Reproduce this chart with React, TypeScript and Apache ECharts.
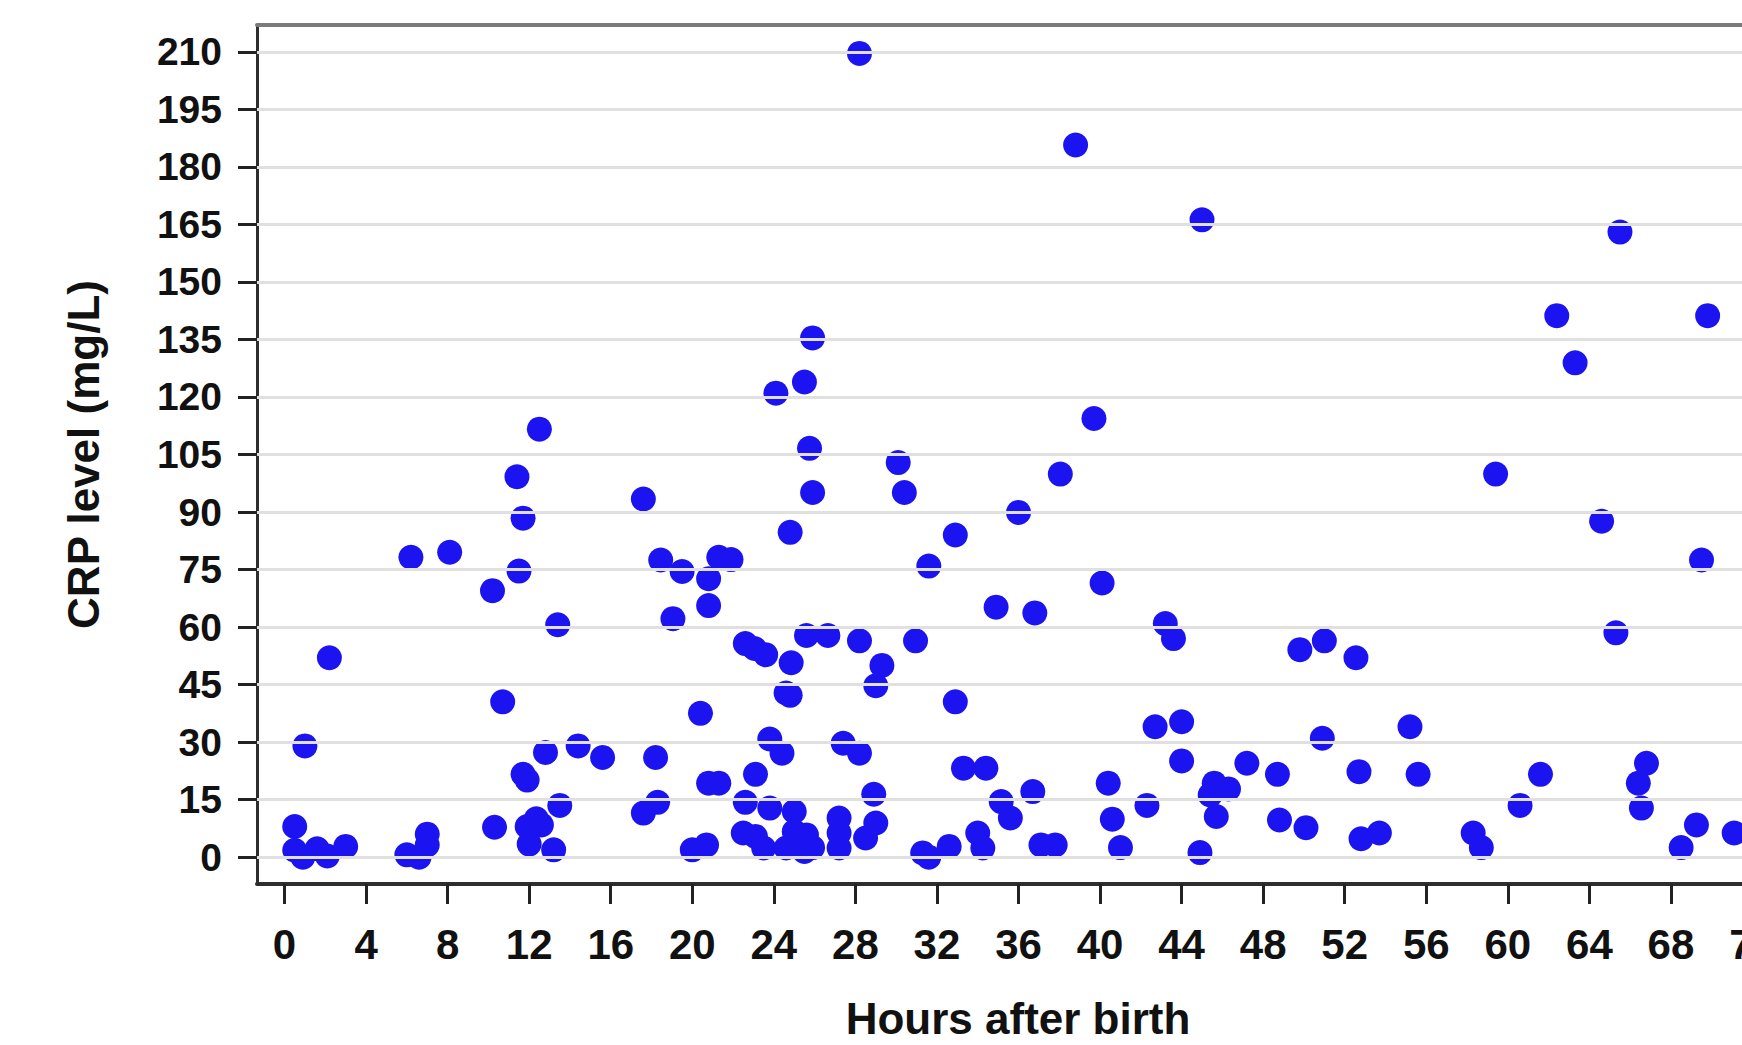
import React, { useEffect, useRef } from "react";
import * as echarts from "echarts";

// Hours after birth (x) and CRP level in mg/L (y)
const hoursAfterBirth = [
  0.5, 0.5, 0.9, 1.6, 2.1, 3.0, 1.0, 2.2, 6.0, 6.6,
  7.0, 7.0, 6.2, 8.1, 10.2, 10.3, 10.7, 11.4, 11.5, 11.7,
  11.7, 11.9, 11.9, 12.0, 12.35, 12.6, 12.5, 12.8, 13.2, 13.4,
  13.5, 14.4, 15.6, 17.6, 17.6, 18.2, 18.3, 18.45, 19.05, 19.5,
  20.0, 20.4, 20.7, 20.8, 20.8, 20.8, 21.3, 21.3, 21.9, 22.5,
  22.6, 22.6, 23.05, 23.1, 23.1, 23.5, 23.6, 23.8, 23.8, 24.1,
  24.4, 24.6, 24.8, 24.8, 24.6, 24.85, 25.0, 25.0, 25.2, 25.5,
  25.5, 25.6, 25.6, 25.75, 25.9, 25.9, 25.9, 26.65, 27.2, 27.2,
  27.2, 27.4, 28.2, 28.2, 28.2, 28.5, 28.9, 29.0, 29.0, 29.3,
  30.1, 30.4, 30.95, 31.3, 31.6, 31.6, 32.6, 32.9, 32.9, 33.3,
  34.0, 34.25, 34.4, 34.9, 35.15, 35.6, 36.0, 36.7, 36.8, 37.1,
  37.8, 38.05, 38.8, 39.7, 40.1, 40.4, 40.6, 41.0, 42.3, 42.7,
  43.2, 43.6, 44.0, 44.0, 44.9, 45.0, 45.4, 45.6, 45.7, 46.3,
  47.2, 48.7, 48.8, 49.8, 50.1, 50.9, 51.0, 52.55, 52.7, 52.8,
  53.7, 55.2, 55.6, 58.3, 58.7, 59.4, 60.6, 61.6, 62.4, 63.3,
  64.6, 65.3, 65.5, 66.4, 66.55, 66.8, 68.5, 69.25, 69.5, 69.8,
  71.1,
];

const crpLevel = [
  8.0, 1.8, 0, 2.2, 0.3, 2.8, 29, 52, 0.6, 0,
  6.0, 3.2, 78.2, 79.5, 69.5, 7.8, 40.5, 99.2, 74.6, 88.4,
  21.6, 20.1, 8.0, 3.4, 10.0, 8.4, 111.6, 27.3, 1.9, 60.6,
  13.5, 29.0, 26.0, 93.4, 11.5, 26.0, 14.3, 77.5, 62.2, 74.5,
  1.9, 37.5, 3.2, 72.6, 65.6, 19.3, 19.3, 78.2, 77.6, 6.3,
  55.7, 14.3, 54.4, 21.6, 5.4, 2.4, 52.8, 30.8, 12.8, 121.0,
  27.1, 2.4, 84.7, 42.2, 42.8, 50.7, 11.9, 6.7, 4.0, 123.9,
  1.5, 57.8, 5.8, 106.6, 135.4, 95.1, 2.5, 57.8, 10.2, 6.3,
  2.4, 29.7, 209.6, 56.4, 27.1, 5.0, 16.4, 44.7, 8.9, 50.0,
  102.9, 95.1, 56.4, 1.1, 75.9, 0, 2.8, 84.0, 40.5, 23.2,
  6.3, 2.4, 23.2, 65.2, 14.5, 10.2, 89.9, 17.1, 63.7, 3.2,
  3.2, 99.9, 185.7, 114.4, 71.5, 19.3, 9.9, 2.5, 13.5, 34.0,
  60.9, 57.0, 35.3, 25.1, 1.2, 166.2, 16.2, 19.3, 10.6, 17.8,
  24.5, 21.6, 9.7, 54.1, 7.7, 31.0, 56.4, 52.0, 22.3, 4.8,
  6.3, 34.0, 21.6, 6.3, 2.5, 99.9, 13.5, 21.6, 141.2, 128.9,
  87.6, 58.5, 163.0, 19.3, 12.8, 24.5, 2.5, 8.4, 77.5, 141.2,
  6.3,
];

const xTickValues = [0, 4, 8, 12, 16, 20, 24, 28, 32, 36, 40, 44, 48, 52, 56, 60, 64, 68, 72];
const yTickValues = [0, 15, 30, 45, 60, 75, 90, 105, 120, 135, 150, 165, 180, 195, 210];

const FONT = "'Liberation Sans', Arial, Helvetica, sans-serif";

export default function App() {
  const ref = useRef<HTMLDivElement>(null);

  useEffect(() => {
    if (!ref.current) return;
    const chart = echarts.init(ref.current, null, { renderer: "svg" });
    const points = hoursAfterBirth.map((h, i) => [h, crpLevel[i]]);

    chart.setOption({
      animation: false,
      backgroundColor: "#ffffff",
      grid: { left: 257, top: 25, width: 1522, height: 861, show: false },
      xAxis: [
        {
          type: "value",
          min: -1.35,
          max: 73.3,
          axisLine: { show: true, onZero: false, lineStyle: { color: "#2e2e2e", width: 4 } },
          axisTick: {
            show: true,
            customValues: xTickValues,
            length: 20,
            lineStyle: { color: "#222222", width: 3 },
          },
          axisLabel: {
            show: true,
            customValues: xTickValues,
            fontSize: 42,
            fontWeight: "bold",
            fontFamily: FONT,
            color: "#111111",
            margin: 39,
          },
          splitLine: { show: false },
          name: "Hours after birth",
          nameLocation: "middle",
          nameGap: 112,
          nameTextStyle: { fontSize: 44, fontWeight: "bold", fontFamily: FONT, color: "#111111" },
        },
        {
          type: "value",
          position: "top",
          min: -1.35,
          max: 73.3,
          axisLine: { show: true, onZero: false, lineStyle: { color: "#7a7a7a", width: 4 } },
          axisTick: { show: false },
          axisLabel: { show: false },
          splitLine: { show: false },
        },
      ],
      yAxis: {
        type: "value",
        min: -7,
        max: 217,
        axisLine: { show: true, onZero: false, lineStyle: { color: "#2e2e2e", width: 3 } },
        axisTick: {
          show: true,
          customValues: yTickValues,
          length: 19,
          lineStyle: { color: "#222222", width: 3 },
        },
        axisLabel: {
          show: true,
          customValues: yTickValues,
          fontSize: 39,
          fontWeight: "bold",
          fontFamily: FONT,
          color: "#111111",
          margin: 35,
        },
        splitLine: { show: false },
        name: "CRP level (mg/L)",
        nameLocation: "middle",
        nameRotate: 90,
        nameGap: 152,
        nameTextStyle: { fontSize: 44, fontWeight: "bold", fontFamily: FONT, color: "#111111" },
      },
      series: [
        {
          type: "scatter",
          data: [],
          z: 1,
          silent: true,
          markLine: {
            silent: true,
            animation: false,
            symbol: ["none", "none"],
            label: { show: false },
            lineStyle: { color: "#e0e0e0", width: 3, type: "solid" },
            emphasis: { disabled: true },
            data: yTickValues.map((v) => ({ yAxis: v })),
          },
        },
        {
          type: "scatter",
          xAxisIndex: 0,
          yAxisIndex: 0,
          data: points,
          symbol: "circle",
          symbolSize: 25,
          z: 3,
          itemStyle: { color: "#1b14f0", opacity: 1 },
        },
      ],
    });

    return () => chart.dispose();
  }, []);

  return (
    <div
      style={{
        position: "fixed",
        left: 0,
        top: 0,
        width: 1742,
        height: 1045,
        overflow: "hidden",
        background: "#ffffff",
      }}
    >
      <div ref={ref} style={{ width: 1800, height: 1045 }} />
    </div>
  );
}
